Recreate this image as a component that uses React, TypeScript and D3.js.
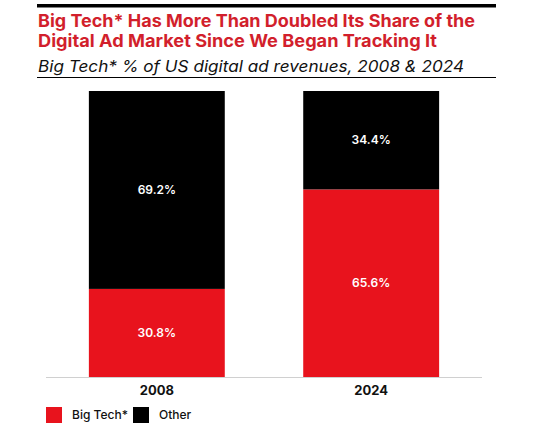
import React from "react";
import * as d3 from "d3";

const years = ["2008", "2024"];
const bigTech = [30.8, 65.6];
const other = [69.2, 34.4];
const seriesNames = ["Big Tech*", "Other"];
const seriesColors = ["#E8131D", "#000000"];

const W = 534;
const H = 428;

export default function App() {
  const x = d3
    .scaleBand<string>()
    .domain(years)
    .range([46, 482])
    .paddingInner(0.366)
    .paddingOuter(0.2);
  const y = d3.scaleLinear().domain([0, 100]).range([377, 91]);

  const rows = years.map((yr, i) => ({ year: yr, big: bigTech[i], other: other[i] }));
  const stack = d3.stack<any>().keys(["big", "other"]);
  const layers = stack(rows);

  const font = "Inter, 'Open Sans', sans-serif";

  return (
    <div style={{ position: "absolute", left: 0, top: 0 }}>
      <svg width={W} height={H} style={{ display: "block", background: "#fff" }}>
        <rect x={37} y={4} width={459} height={3.5} fill="#000" />
        <text
          x={38}
          y={27}
          fill="#D21F2C"
          fontFamily={font}
          fontWeight={700}
          fontSize={17.5}
          textLength={437}
          lengthAdjust="spacingAndGlyphs"
        >
          Big Tech* Has More Than Doubled Its Share of the
        </text>
        <text
          x={38}
          y={47}
          fill="#D21F2C"
          fontFamily={font}
          fontWeight={700}
          fontSize={17.5}
          textLength={399}
          lengthAdjust="spacingAndGlyphs"
        >
          Digital Ad Market Since We Began Tracking It
        </text>
        <text
          x={38}
          y={72}
          fill="#111"
          fontFamily={font}
          fontStyle="italic"
          fontSize={16}
          textLength={426}
          lengthAdjust="spacingAndGlyphs"
        >
          Big Tech* % of US digital ad revenues, 2008 &amp; 2024
        </text>
        <rect x={37} y={77} width={459} height={1} fill="#000" />

        {layers.map((layer, li) => (
          <g key={li} fill={seriesColors[li]}>
            {layer.map((d: any, i: number) => (
              <rect
                key={i}
                x={x(d.data.year)}
                y={y(d[1])}
                width={x.bandwidth()}
                height={y(d[0]) - y(d[1])}
              />
            ))}
          </g>
        ))}
        {layers.map((layer, li) =>
          layer.map((d: any, i: number) => (
            <text
              key={`l${li}-${i}`}
              x={(x(d.data.year) as number) + x.bandwidth() / 2}
              y={(y(d[0]) + y(d[1])) / 2}
              dy="0.35em"
              textAnchor="middle"
              fill="#fff"
              fontFamily={font}
              fontWeight={600}
              fontSize={12}
            >
              {(d[1] - d[0]).toFixed(1)}%
            </text>
          ))
        )}

        <line x1={46} x2={482} y1={377.5} y2={377.5} stroke="#d0d0d0" strokeWidth={1} />
        {years.map((yr) => (
          <text
            key={yr}
            x={(x(yr) as number) + x.bandwidth() / 2}
            y={395}
            textAnchor="middle"
            fill="#111"
            fontFamily={font}
            fontWeight={700}
            fontSize={13}
          >
            {yr}
          </text>
        ))}

        <rect x={46} y={407} width={16} height={16} fill={seriesColors[0]} />
        <text x={72} y={419} fill="#111" fontFamily={font} fontWeight={500} fontSize={12}>
          {seriesNames[0]}
        </text>
        <rect x={133} y={407} width={16} height={16} fill={seriesColors[1]} />
        <text x={159} y={419} fill="#111" fontFamily={font} fontWeight={500} fontSize={12}>
          {seriesNames[1]}
        </text>
      </svg>
    </div>
  );
}
